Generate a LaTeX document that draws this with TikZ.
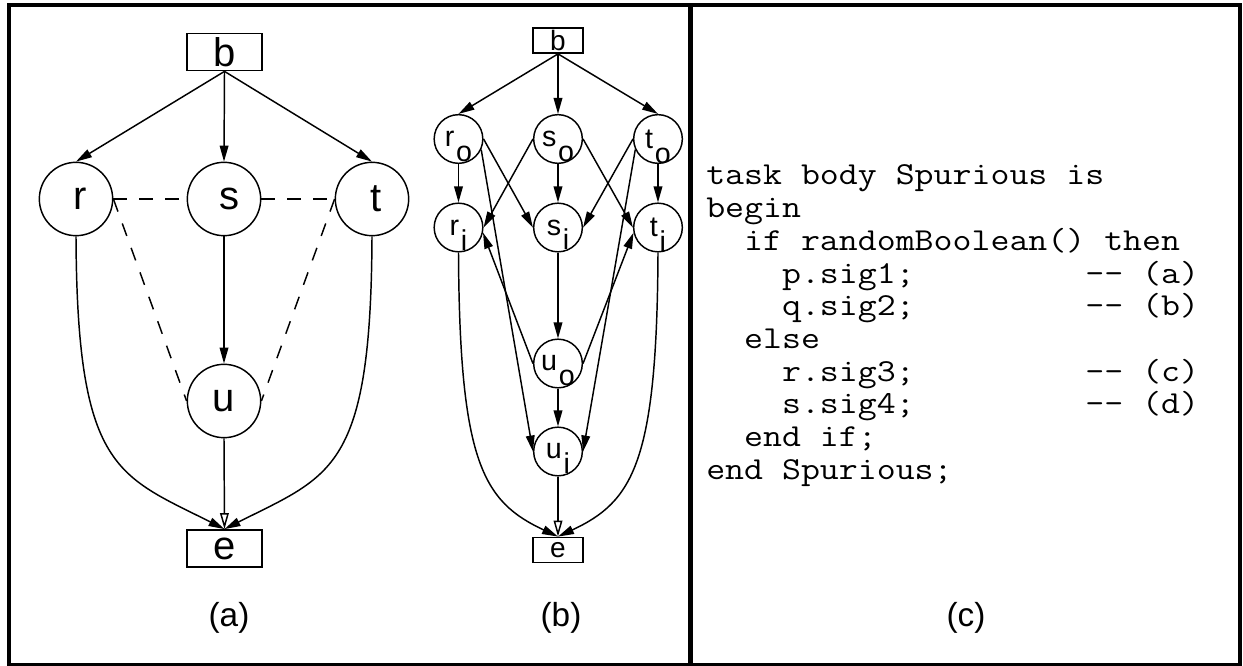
\documentclass[tikz,border=0pt]{standalone}
\usepackage{fontspec}
\setmainfont{Liberation Sans}
\newfontfamily\codefont[FakeStretch=1.15]{Latin Modern Mono}
\usetikzlibrary{arrows.meta}
% letter with a lowered, full-size index (r_o, s_i, ...)
\newcommand\nodesub[2]{#1\kern0.06em\smash{\raisebox{-0.52em}{#2}}}

\begin{document}
\begin{tikzpicture}[x=0.75pt,y=-0.75pt,
  thinline/.style={line width=1.1pt},
  arrowline/.style={thinline,-{Triangle[length=12pt,width=6.5pt]}},
  openline/.style={thinline,-{Triangle[open,length=12pt,width=6.5pt,fill=white]}},
  dashlink/.style={thinline,dash pattern=on 10pt off 9.5pt},
  bigstate/.style={circle,draw,thinline,minimum size=55pt,inner sep=0pt,font=\fontsize{30pt}{36pt}\selectfont},
  bigterm/.style={rectangle,draw,thinline,minimum width=56pt,minimum height=28pt,inner sep=0pt,font=\fontsize{30pt}{36pt}\selectfont},
  smallstate/.style={circle,draw,thinline,minimum size=36.5pt,inner sep=0pt,font=\fontsize{21.5pt}{26pt}\selectfont},
  smallterm/.style={rectangle,draw,thinline,minimum width=37.5pt,minimum height=19pt,inner sep=0pt,font=\fontsize{21pt}{26pt}\selectfont},
  caption/.style={inner sep=0pt,font=\fontsize{25pt}{30pt}\selectfont},
  codeline/.style={anchor=base west,inner sep=0pt,text height=17pt,text depth=5pt,font=\codefont\fontsize{24pt}{24.5pt}\selectfont},
  panel/.style={line width=3pt},
]
\useasboundingbox (0,0) rectangle (1243,666);

% outer frame and panel divider
\draw[panel] (9,5.5) rectangle (1240,664.5);
\draw[panel,line width=3.6pt] (690.5,5.5) -- (690.5,664.5);

% ---------- (a) task graph ----------
\node[bigterm]  (bA) at (224.5,52)  {b};
\node[bigstate] (rA) at (76,199)    {\kern6pt r};
\node[bigstate] (sA) at (224,199)   {\kern8pt s};
\node[bigstate] (tA) at (372,199)   {\kern6pt t};
\node[bigstate] (uA) at (224,401)   {u};
\node[bigterm]  (eA) at (224.5,548.5) {e};

\draw[arrowline] (bA.south) -- (rA.north);
\draw[arrowline] (bA.south) -- (sA.north);
\draw[arrowline] (bA.south) -- (tA.north);
\draw[arrowline] (sA.south) -- (uA.north);
\draw[openline]  (uA.south) -- (eA.north);
\draw[arrowline] (rA.south) .. controls +(1,234) and +(-107,-54) .. (eA.north);
\draw[arrowline] (tA.south) .. controls +(-1,234) and +(107,-54) .. (eA.north);

\draw[dashlink] (rA.east) -- (sA.west);
\draw[dashlink] (sA.east) -- (tA.west);
\draw[dashlink] (rA.east) -- (uA.west);
\draw[dashlink] (tA.west) -- (uA.east);

\node[caption] (capA) at (229,618) {(a)};

% ---------- (b) split graph ----------
\node[smallterm]  (bB) at (558,40.5)  {b};
\node[smallstate] (ro) at (458.5,139) {\nodesub{r}{o}};
\node[smallstate] (so) at (558,139)   {\nodesub{s}{o}};
\node[smallstate] (to) at (658,139)   {\nodesub{t}{o}};
\node[smallstate] (ri) at (458.5,227.5) {\nodesub{r}{i}};
\node[smallstate] (si) at (558,227.5) {\nodesub{s}{i}};
\node[smallstate] (ti) at (658,227.5) {\nodesub{t}{i}};
\node[smallstate] (uo) at (558,363.5) {\nodesub{u}{o}};
\node[smallstate] (ui) at (558,451.5) {\nodesub{u}{i}};
\node[smallterm]  (eB) at (558,550)   {e};

\draw[arrowline] (bB.south) -- (ro.north);
\draw[arrowline] (bB.south) -- (so.north);
\draw[arrowline] (bB.south) -- (to.north);
\draw[arrowline] (ro.south) -- (ri.north);
\draw[arrowline] (so.south) -- (si.north);
\draw[arrowline] (to.south) -- (ti.north);
\draw[arrowline] (ro.east) -- (si.west);
\draw[arrowline] (so.west) -- (ri.east);
\draw[arrowline] (so.east) -- (ti.west);
\draw[arrowline] (to.west) -- (si.east);
\draw[arrowline] (ro.-25) -- (ui.west);
\draw[arrowline] (to.205) -- (ui.east);
\draw[arrowline] (uo.west) -- (ri.-12);
\draw[arrowline] (uo.east) -- (ti.192);
\draw[arrowline] (si.south) -- (uo.north);
\draw[arrowline] (uo.south) -- (ui.north);
\draw[openline]  (ui.south) -- (eB.north);
\draw[arrowline] (ri.south) .. controls +(1,210) and +(-75,-35) .. (eB.north);
\draw[arrowline] (ti.south) .. controls +(-1,210) and +(75,-35) .. (eB.north);

\node[caption] (capB) at (561,618) {(b)};

% ---------- (c) task body ----------
\node[codeline] (c0) at (706,185)   {task body Spurious is};
\node[codeline] (c1) at (706,217.7) {begin};
\node[codeline] (c2) at (706,250.4) {~~if randomBoolean() then};
\node[codeline] (c3) at (706,283.1) {~~~~p.sig1;~~~~~~~~~-{}-~(a)};
\node[codeline] (c4) at (706,315.8) {~~~~q.sig2;~~~~~~~~~-{}-~(b)};
\node[codeline] (c5) at (706,348.5) {~~else};
\node[codeline] (c6) at (706,381.2) {~~~~r.sig3;~~~~~~~~~-{}-~(c)};
\node[codeline] (c7) at (706,413.9) {~~~~s.sig4;~~~~~~~~~-{}-~(d)};
\node[codeline] (c8) at (706,446.6) {~~end if;};
\node[codeline] (c9) at (706,479.3) {end Spurious;};

\node[caption] (capC) at (966,618) {(c)};
\end{tikzpicture}
\end{document}
